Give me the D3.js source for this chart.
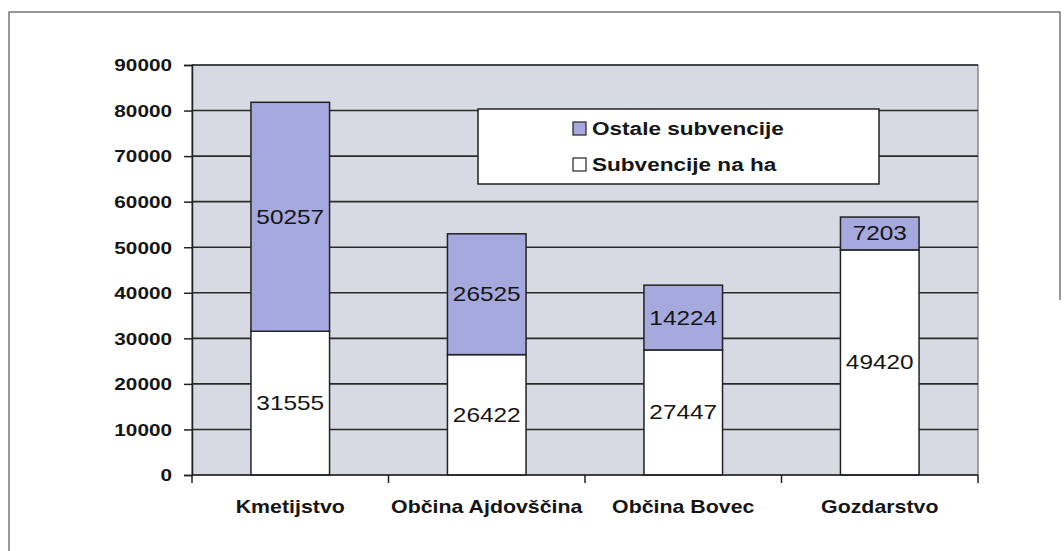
<!DOCTYPE html>
<html>
<head>
<meta charset="utf-8">
<script src="https://cdn.jsdelivr.net/npm/d3@7"></script>
<style>
  body { margin: 0; background: #fff; }
  text { font-family: "Liberation Sans", Arial, sans-serif; fill: #151515; }
</style>
</head>
<body>
<script>
'use strict';

let categories = ['Kmetijstvo', 'Občina Ajdovščina', 'Občina Bovec', 'Gozdarstvo'];
let subvencijeNaHa = [31555, 26422, 27447, 49420];
let ostaleSubvencije = [50257, 26525, 14224, 7203];
let yTicks = [0, 10000, 20000, 30000, 40000, 50000, 60000, 70000, 80000, 90000];
let legendLabels = ['Ostale subvencije', 'Subvencije na ha'];

let width = 1064;
let height = 551;
let sx = 1.22; // the scan is stretched sideways, so is the text

let rows = categories.map((c, i) => ({
  cat: c,
  ha: subvencijeNaHa[i],
  ostale: ostaleSubvencije[i]
}));

let svg = d3.select('body').append('svg')
  .attr('width', width)
  .attr('height', height);

// outer frame
svg.append('path')
  .attr('d', 'M9,551 V12 H1060 V300')
  .attr('fill', 'none')
  .attr('stroke', '#777')
  .attr('stroke-width', 1.5);

let x = d3.scaleBand()
  .domain(categories)
  .range([192, 978])
  .paddingInner(0.6)
  .paddingOuter(0.3);

let y = d3.scaleLinear()
  .domain([0, 90000])
  .range([475, 65]);

let fill = { ha: '#ffffff', ostale: '#a6a9dd' };

// plot area
svg.append('rect')
  .attr('x', 192).attr('y', 65)
  .attr('width', 978 - 192).attr('height', 475 - 65)
  .attr('fill', '#d7dae2')
  .attr('stroke', '#555')
  .attr('stroke-width', 1);

svg.append('g')
    .attr('class', 'grid')
  .selectAll('line')
  .data(yTicks.slice(1))
  .enter().append('line')
    .attr('x1', 192).attr('x2', 978)
    .attr('y1', d => y(d)).attr('y2', d => y(d))
    .attr('stroke', '#2a2a2a')
    .attr('stroke-width', 1.6);

let stack = d3.stack().keys(['ha', 'ostale']);
let series = stack(rows);

let layer = svg.append('g').selectAll('g')
  .data(series)
  .enter().append('g')
    .attr('fill', d => fill[d.key]);

layer.selectAll('rect')
  .data(d => d)
  .enter().append('rect')
    .attr('x', d => x(d.data.cat))
    .attr('y', d => y(d[1]))
    .attr('width', x.bandwidth())
    .attr('height', d => y(d[0]) - y(d[1]))
    .attr('stroke', '#222')
    .attr('stroke-width', 1.5);

let stretched = (sel, px, py) => sel
  .attr('transform', d => 'translate(' + px(d) + ',' + py(d) + ') scale(' + sx + ',1)');

// values inside the segments
series.forEach(s => {
  let t = svg.append('g').selectAll('text')
    .data(s)
    .enter().append('text')
      .attr('text-anchor', 'middle')
      .attr('dy', '0.35em')
      .style('font-size', '20px')
      .text(d => d[1] - d[0]);
  stretched(t, d => x(d.data.cat) + x.bandwidth() / 2, d => y((d[0] + d[1]) / 2));
});

// y axis
let yAxis = d3.axisLeft(y).tickValues(yTicks).tickSize(8).tickFormat(d => d);
let ya = svg.append('g')
  .attr('transform', 'translate(192,0)')
  .call(yAxis);
ya.select('.domain').attr('stroke', '#222').attr('stroke-width', 1.5);
ya.selectAll('.tick line').attr('stroke', '#222').attr('stroke-width', 1.5);
ya.selectAll('.tick text')
  .attr('x', null)
  .attr('dy', null)
  .attr('text-anchor', 'end')
  .attr('dominant-baseline', 'central')
  .style('font-size', '17px')
  .style('font-weight', 'bold')
  .attr('transform', 'translate(-20,0) scale(' + sx + ',1)');

// x axis, ticks between the categories
let xa = svg.append('g');
xa.append('line')
  .attr('x1', 192).attr('x2', 978)
  .attr('y1', 475).attr('y2', 475)
  .attr('stroke', '#222').attr('stroke-width', 1.5);
let step = x.step();
xa.selectAll('line.tk')
  .data(d3.range(categories.length + 1))
  .enter().append('line')
    .attr('class', 'tk')
    .attr('x1', i => x.range()[0] + i * step)
    .attr('x2', i => x.range()[0] + i * step)
    .attr('y1', 475).attr('y2', 483)
    .attr('stroke', '#222').attr('stroke-width', 1.5);
let xl = xa.selectAll('text')
  .data(categories)
  .enter().append('text')
    .attr('text-anchor', 'middle')
    .attr('dy', '0.35em')
    .style('font-size', '17.5px')
    .style('font-weight', 'bold')
    .text(d => d);
stretched(xl, d => x(d) + x.bandwidth() / 2, () => 507);

// legend
let legend = svg.append('g');
legend.append('rect')
  .attr('x', 478).attr('y', 109)
  .attr('width', 401).attr('height', 75)
  .attr('fill', '#fff')
  .attr('stroke', '#222')
  .attr('stroke-width', 1.5);
let items = legend.selectAll('g.item')
  .data(legendLabels)
  .enter().append('g')
    .attr('class', 'item')
    .attr('transform', (d, i) => 'translate(573,' + (129 + i * 36) + ')');
items.append('rect')
  .attr('x', 0).attr('y', -7)
  .attr('width', 13).attr('height', 13)
  .attr('fill', (d, i) => i === 0 ? fill.ostale : fill.ha)
  .attr('stroke', '#222')
  .attr('stroke-width', 1.2);
items.append('text')
  .attr('dy', '0.35em')
  .attr('transform', 'translate(19,0) scale(' + sx + ',1)')
  .style('font-size', '18.5px')
  .style('font-weight', 'bold')
  .text(d => d);
</script>
</body>
</html>
